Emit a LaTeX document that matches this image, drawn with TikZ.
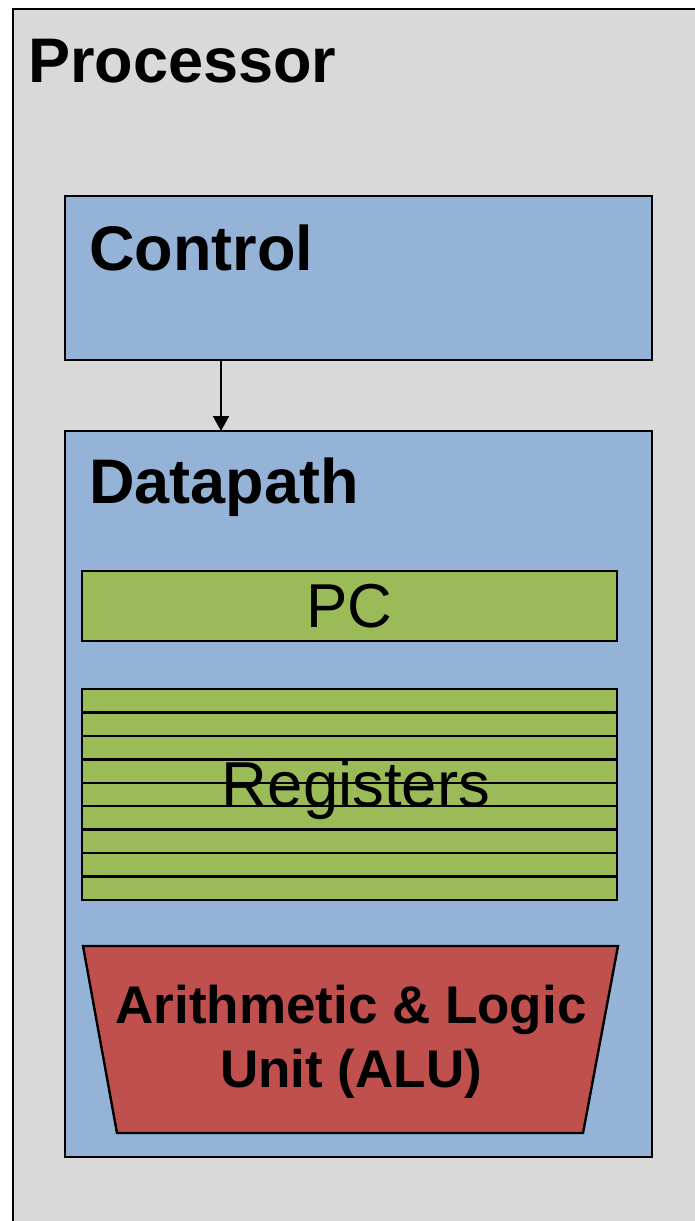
\documentclass[tikz,border=0pt]{standalone}
\usepackage{fontspec}
\setmainfont{Liberation Sans}
\usetikzlibrary{arrows.meta,calc}
\definecolor{procgray}{HTML}{D9D9D9}
\definecolor{ctrlblue}{HTML}{95B3D7}
\definecolor{reggreen}{HTML}{9BBB59}
\definecolor{alured}{HTML}{C0504D}
\begin{document}
\begin{tikzpicture}[x=1pt,y=-1pt,
  box/.style={draw=black, line width=2.4pt, inner sep=0pt, outer sep=0pt, anchor=north west},
  bigbold/.style={font=\fontsize{63}{70}\selectfont\bfseries, inner sep=0pt},
  bigreg/.style={font=\fontsize{62}{70}\selectfont, inner sep=0pt}]
\useasboundingbox (0,0) rectangle (695,1221);
\fill[white] (0,0) rectangle (695,1221);
\begin{scope}
\clip (0,0) rectangle (695,1221);
\node[box, fill=procgray, line width=2.8pt, minimum width=720, minimum height=1250] (proc) at (13,9) {};
\end{scope}
\node[bigbold, anchor=base west] (proclabel) at (28,82) {Processor};
% Control
\node[box, fill=ctrlblue, minimum width=587, minimum height=164] (control) at (65,196) {};
\node[bigbold, anchor=base west] (controllabel) at (89,270) {Control};
% Datapath
\node[box, fill=ctrlblue, minimum width=587, minimum height=726] (datapath) at (65,431) {};
\node[bigbold, anchor=base west] (datapathlabel) at (89,503) {Datapath};
% arrow
\coordinate (arrstart) at (221,360);
\coordinate (arrend) at (221,431);
\draw[line width=2pt, -{Triangle[length=15pt,width=16pt]}] (arrstart) -- (arrend);
% PC
\node[box, fill=reggreen, minimum width=535, minimum height=70] (pc) at (82,571) {};
\node[bigreg] (pclabel) at (pc.center) {PC};
% Registers
\node[box, fill=reggreen, minimum width=535, minimum height=211] (regs) at (82,689) {};
\foreach \k in {1,...,8} {
  \draw[line width=2.4pt] ($(regs.north west)+(0,{\k*23.44})$) -- ($(regs.north east)+(0,{\k*23.44})$);
}
\node[bigreg, font=\fontsize{63.5}{70}\selectfont] (reglabel) at (356,790) {Registers};
% ALU
\draw[fill=alured, line width=2.4pt] (83,946) -- (618,946) -- (583,1133) -- (117,1133) -- cycle;
\node[inner sep=0pt, align=center, font=\fontsize{53}{64}\selectfont\bfseries] (alu) at (351,1042) {Arithmetic \& Logic\\Unit (ALU)};
\end{tikzpicture}
\end{document}
